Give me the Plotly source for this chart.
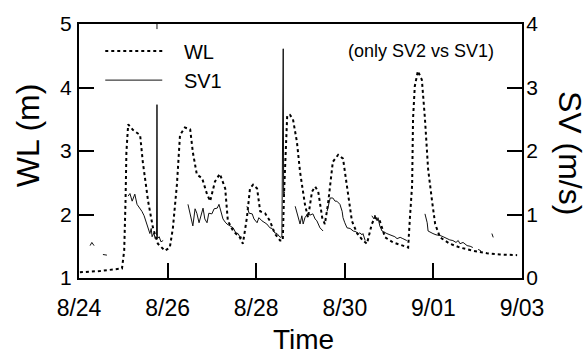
import pandas as pd
import plotly.graph_objects as go

BASE = "2011-08-24"

# Water level (m): elapsed days since 8/24 00:00, value
wl_days = [0.02, 0.47, 0.97, 1.02, 1.05, 1.07, 1.11, 1.22, 1.38, 1.44, 1.56, 1.67, 1.78, 1.94,
           2.05, 2.12, 2.21, 2.28, 2.39, 2.51, 2.57, 2.66, 2.78, 2.89, 2.96, 3.07, 3.18, 3.30,
           3.36, 3.48, 3.63, 3.70, 3.79, 3.86, 3.93, 4.02, 4.09, 4.20, 4.31, 4.42, 4.54, 4.60,
           4.63, 4.70, 4.76, 4.83, 4.92, 4.99, 5.10, 5.17, 5.26, 5.33, 5.40, 5.49, 5.55, 5.62,
           5.73, 5.85, 5.96, 6.05, 6.16, 6.28, 6.41, 6.50, 6.61, 6.68, 6.79, 6.91, 7.09, 7.31,
           7.43, 7.47, 7.52, 7.54, 7.58, 7.65, 7.74, 7.81, 7.88, 7.97, 8.04, 8.15, 8.37, 8.60,
           8.89, 9.21, 9.50, 9.89]
wl_vals = [1.09, 1.11, 1.15, 1.43, 2.21, 2.98, 3.42, 3.33, 3.25, 2.83, 2.21, 1.79, 1.54, 1.43,
           1.48, 1.79, 2.47, 3.25, 3.37, 3.34, 2.98, 2.63, 2.57, 2.32, 2.21, 2.52, 2.64, 2.41,
           1.90, 1.74, 1.64, 1.54, 1.95, 2.41, 2.47, 2.41, 2.05, 2.02, 1.90, 1.70, 1.59, 1.59,
           2.36, 3.56, 3.57, 3.50, 3.14, 2.67, 2.16, 1.95, 2.36, 2.44, 2.36, 1.95, 1.85, 2.16,
           2.83, 2.94, 2.88, 2.41, 1.90, 1.70, 1.59, 1.54, 1.85, 1.95, 1.90, 1.64, 1.56, 1.51,
           1.48, 1.95, 2.47, 3.50, 4.02, 4.26, 4.12, 3.50, 2.72, 2.21, 1.85, 1.64, 1.54, 1.48,
           1.43, 1.39, 1.37, 1.36]

# Stream velocity SV1 (m/s); None marks gaps in the record
sv_days = [0.25, 0.29, 0.34, None, 0.54, 0.63, None,
           1.11, 1.15, 1.20, 1.26, 1.31, 1.38, 1.42, 1.47, 1.51, 1.56, 1.60, 1.63, 1.65, 1.69,
           1.72, 1.75, 1.76, 1.77, 1.81, 1.85, 1.90, None,
           1.76, 1.76, None,
           2.46, 2.51, 2.57, 2.62, 2.66, 2.71, 2.75, 2.80, 2.84, 2.89, 2.93, 3.00, 3.05, 3.12,
           3.16, 3.21, 3.25, 3.30, 3.34, 3.41, 3.48, 3.54, 3.59, 3.63, 3.68, None,
           3.79, 3.84, 3.91, 3.95, 4.02, 4.06, 4.13, 4.20, 4.24, 4.31, 4.36, 4.42, 4.47, 4.54,
           4.58, 4.61, 4.62, 4.64, None,
           4.88, 4.92, 4.94, 4.99, 5.03, 5.06, 5.10, 5.17, 5.21, 5.28, 5.33, 5.37, 5.44, 5.51, None,
           5.60, 5.64, 5.67, 5.73, 5.78, 5.82, 5.89, 5.94, 5.96, 6.00, 6.05, 6.12, 6.19, 6.25,
           6.30, 6.34, 6.39, 6.41, 6.46, None,
           6.61, 6.66, 6.68, 6.73, 6.75, 6.79, 6.84, 6.91, 6.95, 7.02, 7.07, 7.13, 7.18, 7.25,
           7.31, 7.36, 7.40, None,
           7.81, 7.86, 7.88, 7.95, 7.99, 8.06, 8.15, 8.22, 8.31, 8.37, 8.44, 8.51, 8.56, 8.60,
           8.67, 8.76, 8.83, 8.89, None,
           9.01, 9.07, None,
           9.32, 9.35]
sv_vals = [0.51, 0.56, 0.51, None, 0.37, 0.36, None,
           1.29, 1.33, 1.21, 1.32, 1.16, 1.10, 1.05, 0.98, 0.90, 0.78, 0.70, 0.78, 0.65, 0.71,
           0.62, 0.67, 2.73, 0.62, 0.65, 0.57, 0.59, None,
           4.10, 3.92, None,
           1.16, 0.98, 0.82, 1.09, 1.02, 0.87, 0.98, 1.10, 0.93, 0.87, 1.02, 1.01, 1.09, 1.10,
           1.16, 1.05, 0.93, 0.88, 0.85, 0.82, 0.79, 0.71, 0.70, 0.65, 0.64, None,
           1.13, 1.02, 1.01, 0.93, 0.87, 0.95, 0.90, 0.87, 0.85, 0.79, 0.78, 0.71, 0.70, 0.64,
           0.65, 3.61, 1.29, 1.36, None,
           1.13, 1.01, 0.95, 0.85, 0.98, 0.85, 0.95, 1.02, 0.99, 1.01, 0.93, 0.90, 0.79, 0.74, None,
           1.05, 1.16, 1.26, 1.26, 1.21, 1.21, 1.16, 1.05, 0.95, 0.87, 0.79, 0.78, 0.74, 0.73,
           0.70, 0.71, 0.68, 0.70, 0.59, None,
           0.98, 0.93, 0.99, 0.90, 0.95, 0.82, 0.74, 0.71, 0.70, 0.68, 0.67, 0.65, 0.62, 0.64,
           0.62, 0.60, 0.59, None,
           1.01, 0.87, 0.74, 0.71, 0.70, 0.68, 0.67, 0.65, 0.62, 0.60, 0.59, 0.56, 0.59, 0.54,
           0.56, 0.51, 0.50, 0.48, None,
           0.45, 0.43, None,
           0.70, 0.64]

tick_days = [0, 2, 4, 6, 8, 10]
tick_labels = ["8/24", "8/26", "8/28", "8/30", "9/01", "9/03"]
wl_ticks = [1, 2, 3, 4, 5]
sv_ticks = [0, 1, 2, 3, 4]

base = pd.Timestamp(BASE)


def to_time(days):
    return [None if d is None else base + pd.to_timedelta(d, unit="D") for d in days]


FONT = "Liberation Sans, Arial, sans-serif"
PAD = "\u00a0\u00a0\u00a0"

fig = go.Figure()
fig.add_trace(go.Scatter(x=to_time(wl_days), y=wl_vals, mode="lines", name=PAD + "WL",
                         line=dict(color="black", width=2, dash="3px,3px"),
                         yaxis="y"))
fig.add_trace(go.Scatter(x=to_time(sv_days), y=sv_vals, mode="lines", name=PAD + "SV1",
                         line=dict(color="#111111", width=1), connectgaps=False,
                         yaxis="y2"))

axis_common = dict(showgrid=False, zeroline=False, showline=True, linecolor="black",
                   linewidth=2, ticks="inside", ticklen=15, tickwidth=2, tickcolor="black")

fig.update_layout(
    width=588, height=359,
    margin=dict(l=79, r=66, t=20, b=81),
    paper_bgcolor="white", plot_bgcolor="white",
    font=dict(family=FONT, color="black"),
    xaxis=dict(type="date", range=to_time([tick_days[0], tick_days[-1]]),
               tickmode="array", tickvals=to_time(tick_days), ticktext=tick_labels,
               mirror=True, ticklabelstandoff=8,
               tickfont=dict(family=FONT, size=23, color="black"), **axis_common),
    yaxis=dict(range=[1, 5], tickmode="array", tickvals=wl_ticks, ticklabelstandoff=1,
               tickfont=dict(family=FONT, size=21, color="black"), **axis_common),
    yaxis2=dict(range=[0, 4], tickmode="array", tickvals=sv_ticks, overlaying="y",
                side="right", ticklabelstandoff=-2,
                tickfont=dict(family=FONT, size=21, color="black"), **axis_common),
    legend=dict(x=0.048, y=0.97, xanchor="left", yanchor="top", bgcolor="rgba(0,0,0,0)",
                font=dict(family=FONT, size=20, color="black"), itemwidth=57,
                tracegroupgap=0),
    showlegend=True,
)

fig.add_annotation(text="(only SV2 vs SV1)", xref="paper", yref="paper",
                   x=(421 - 79) / 443, y=(278 - 47) / 258, showarrow=False,
                   xanchor="center", yanchor="middle",
                   font=dict(family=FONT, size=18, color="black"))
fig.add_annotation(text="Time", xref="paper", yref="paper", x=(303 - 79) / 443,
                   y=(278 - 340) / 258, showarrow=False, xanchor="center", yanchor="middle",
                   font=dict(family=FONT, size=28, color="black"))
fig.add_annotation(text="WL (m)", xref="paper", yref="paper", x=(28 - 79) / 443,
                   y=(278 - 133) / 258, showarrow=False, textangle=-90,
                   xanchor="center", yanchor="middle",
                   font=dict(family=FONT, size=32, color="black"))
fig.add_annotation(text="SV (m/s)", xref="paper", yref="paper", x=(570 - 79) / 443,
                   y=(278 - 151) / 258, showarrow=False, textangle=90,
                   xanchor="center", yanchor="middle",
                   font=dict(family=FONT, size=32, color="black"))

fig.write_html("out.html")
